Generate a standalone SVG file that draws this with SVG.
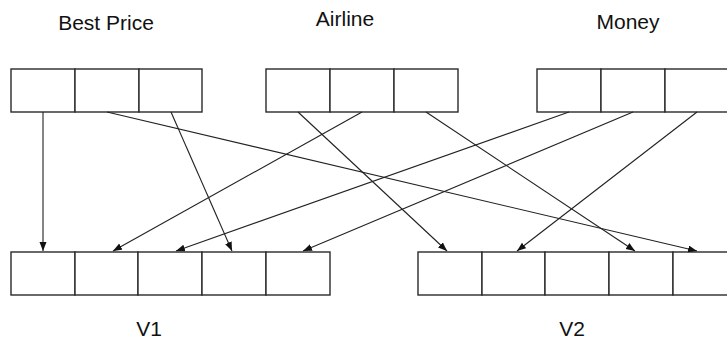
<svg xmlns="http://www.w3.org/2000/svg" width="727" height="341" viewBox="0 0 727 341">
<style>
.cell{fill:#fff;stroke:#2a2a2a;stroke-width:1.4}
.lbl{font-family:"Liberation Sans",Arial,sans-serif;font-size:21px;fill:#111;text-anchor:middle}
.conn line{stroke:#222;stroke-width:1.1;marker-end:url(#ah)}
</style>
<defs>
<marker id="ah" markerUnits="userSpaceOnUse" markerWidth="10" markerHeight="8" refX="9" refY="3.5" orient="auto">
<path d="M0,0 L9,3.5 L0,7 z" fill="#111"/>
</marker>
</defs>
<rect width="727" height="341" fill="#fff"/>
<g id="best-price">
<text class="lbl" x="106" y="30">Best Price</text>
<rect class="cell" x="11" y="69" width="64" height="43"/>
<rect class="cell" x="75" y="69" width="64" height="43"/>
<rect class="cell" x="139" y="69" width="63" height="43"/>
</g>
<g id="airline">
<text class="lbl" x="345" y="26">Airline</text>
<rect class="cell" x="266" y="69" width="64" height="43"/>
<rect class="cell" x="330" y="69" width="64" height="43"/>
<rect class="cell" x="394" y="69" width="64" height="43"/>
</g>
<g id="money">
<text class="lbl" x="628" y="29">Money</text>
<rect class="cell" x="537" y="69" width="64" height="43"/>
<rect class="cell" x="601" y="69" width="64" height="43"/>
<rect class="cell" x="665" y="69" width="64" height="43"/>
</g>
<g id="v1">
<rect class="cell" x="11" y="252" width="64" height="43"/>
<rect class="cell" x="75" y="252" width="63" height="43"/>
<rect class="cell" x="138" y="252" width="64" height="43"/>
<rect class="cell" x="202" y="252" width="64" height="43"/>
<rect class="cell" x="266" y="252" width="64" height="43"/>
<text class="lbl" x="149" y="336">V1</text>
</g>
<g id="v2">
<rect class="cell" x="418" y="252" width="64" height="43"/>
<rect class="cell" x="482" y="252" width="63" height="43"/>
<rect class="cell" x="545" y="252" width="64" height="43"/>
<rect class="cell" x="609" y="252" width="64" height="43"/>
<rect class="cell" x="673" y="252" width="64" height="43"/>
<text class="lbl" x="572" y="336">V2</text>
</g>
<g id="connectors" class="conn">
<line x1="43" y1="112" x2="43" y2="251"/>
<line x1="107" y1="112" x2="697" y2="251"/>
<line x1="171" y1="112" x2="232" y2="251"/>
<line x1="298" y1="112" x2="447" y2="251"/>
<line x1="362" y1="112" x2="113" y2="251"/>
<line x1="426" y1="112" x2="635" y2="251"/>
<line x1="569" y1="112" x2="176" y2="251"/>
<line x1="633" y1="112" x2="303" y2="251"/>
<line x1="697" y1="112" x2="517" y2="251"/>
</g>
</svg>
